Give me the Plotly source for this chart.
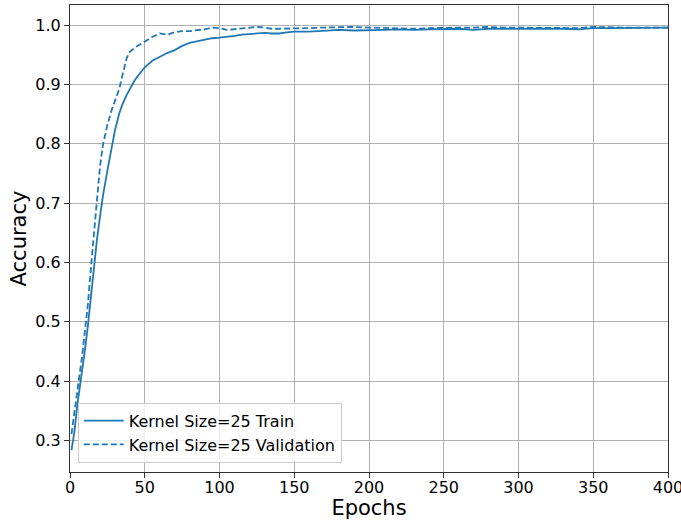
import plotly.graph_objects as go

# Training history for the kernel-size-25 model
epochs = [1, 3, 5, 8, 10, 12, 15, 18, 20, 22, 25, 28, 30, 33, 35, 38, 40, 43, 45, 48,
          50, 55, 60, 65, 70, 75, 80, 85, 90, 95, 100, 105, 110, 115, 120, 125, 130,
          135, 140, 145, 150, 160, 170, 180, 190, 200, 210, 220, 230, 240, 250, 260,
          270, 280, 290, 300, 310, 320, 330, 340, 350, 360, 370, 380, 390, 400]

train_acc = [0.284, 0.316, 0.362, 0.414, 0.453, 0.494, 0.568, 0.638, 0.676, 0.712,
             0.755, 0.795, 0.822, 0.852, 0.866, 0.883, 0.893, 0.906, 0.913, 0.923,
             0.929, 0.940, 0.947, 0.953, 0.958, 0.965, 0.970, 0.973, 0.975, 0.978,
             0.979, 0.980, 0.982, 0.984, 0.985, 0.987, 0.987, 0.986, 0.986, 0.988,
             0.989, 0.989, 0.990, 0.992, 0.991, 0.991, 0.992, 0.993, 0.992, 0.993,
             0.994, 0.994, 0.992, 0.994, 0.994, 0.994, 0.994, 0.995, 0.994, 0.993,
             0.995, 0.995, 0.995, 0.995, 0.996, 0.996]

val_acc = [0.311, 0.345, 0.385, 0.440, 0.488, 0.530, 0.620, 0.710, 0.760, 0.798,
           0.832, 0.858, 0.872, 0.893, 0.915, 0.945, 0.955, 0.962, 0.965, 0.969,
           0.972, 0.980, 0.986, 0.984, 0.988, 0.990, 0.990, 0.991, 0.993, 0.996,
           0.995, 0.992, 0.993, 0.994, 0.995, 0.997, 0.996, 0.994, 0.994, 0.994,
           0.994, 0.995, 0.996, 0.997, 0.997, 0.996, 0.995, 0.995, 0.994, 0.995,
           0.996, 0.996, 0.996, 0.997, 0.996, 0.996, 0.996, 0.996, 0.996, 0.995,
           0.997, 0.996, 0.996, 0.996, 0.996, 0.996]

x_ticks = [0, 50, 100, 150, 200, 250, 300, 350, 400]
y_ticks = [0.3, 0.4, 0.5, 0.6, 0.7, 0.8, 0.9, 1.0]

BLUE = "#1f77b4"
FONT = "DejaVu Sans"

fig = go.Figure()
fig.add_trace(go.Scatter(x=epochs, y=train_acc, mode="lines",
                         name="Kernel Size=25 Train",
                         line=dict(color=BLUE, width=1.8)))
fig.add_trace(go.Scatter(x=epochs, y=val_acc, mode="lines",
                         name="Kernel Size=25 Validation",
                         line=dict(color=BLUE, width=1.8, dash="6px,3px")))

axis_common = dict(
    showline=True, linecolor="#333333", linewidth=1.2, mirror=True,
    showgrid=True, gridcolor="#b0b0b0", gridwidth=1,
    ticks="outside", ticklen=5, tickwidth=1, tickcolor="#333333",
    tickfont=dict(family=FONT, size=16, color="black"),
    zeroline=False, automargin=False, ticklabeloverflow="allow",
)

fig.update_xaxes(range=[0, 400], tickvals=x_ticks,
                 ticktext=[str(v) for v in x_ticks],
                 ticklabelstandoff=-4,
                 title=dict(text="Epochs", font=dict(family=FONT, size=21, color="black"),
                            standoff=4),
                 **axis_common)
fig.update_yaxes(range=[0.247, 1.034], tickvals=y_ticks,
                 ticktext=[f"{v:.1f}" for v in y_ticks],
                 title=dict(text="Accuracy", font=dict(family=FONT, size=21, color="black"),
                            standoff=2),
                 **axis_common)

fig.update_layout(
    width=681, height=520,
    margin=dict(l=70, r=13, t=5, b=48),
    paper_bgcolor="white", plot_bgcolor="white",
    font=dict(family=FONT, color="black"),
    legend=dict(x=0.013, y=0.02, xanchor="left", yanchor="bottom",
                bgcolor="rgba(255,255,255,0.8)", bordercolor="#cccccc", borderwidth=1,
                font=dict(family=FONT, size=16, color="black"),
                itemwidth=40, tracegroupgap=2),
    showlegend=True,
)

fig.write_html("out.html")
